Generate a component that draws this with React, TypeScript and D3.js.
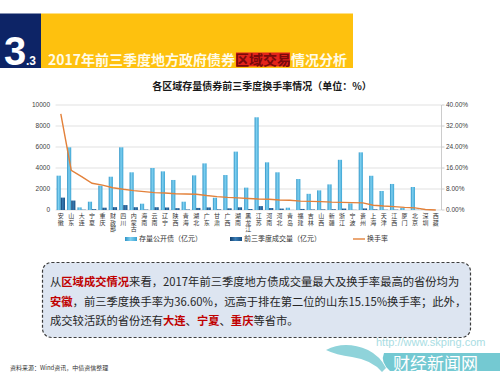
import React from "react";
import * as d3 from "d3";

const categories = ["安徽", "山东", "大连", "宁夏", "重庆", "财政部", "四川", "内蒙古", "海南", "云南", "辽宁", "陕西", "青海", "湖北", "广东", "甘肃", "广西", "湖南", "黑龙江", "江苏", "河南", "河北", "青岛", "福建", "吉林", "山西", "新疆", "浙江", "宁波", "贵州", "上海", "天津", "江西", "厦门", "北京", "深圳", "西藏"];

// 存量公开债（亿元）
const stockValues = [3270, 5970, 250, 790, 2320, 3170, 5970, 3590, 600, 4000, 3680, 2860, 790, 3300, 4440, 1170, 3330, 5560, 2130, 8830, 4540, 3590, 220, 2950, 1540, 1870, 2440, 4780, 630, 5490, 3260, 1810, 2480, 220, 2190, 30, 0];
// 前三季度成交量（亿元）
const volumeValues = [1180, 900, 32, 80, 220, 270, 470, 265, 42, 264, 240, 177, 48, 198, 244, 60, 160, 256, 94, 371, 186, 136, 8, 100, 51, 60, 73, 138, 18, 148, 62, 27, 35, 2, 18, 0, 0];
// 换手率（%）
const rateValues = [36.6, 15.15, 12.7, 10.2, 9.5, 8.5, 7.9, 7.4, 7.0, 6.6, 6.5, 6.2, 6.1, 6.0, 5.5, 5.1, 4.8, 4.6, 4.4, 4.2, 4.1, 3.8, 3.7, 3.4, 3.3, 3.2, 3.0, 2.9, 2.8, 2.7, 1.8, 1.5, 1.3, 1.0, 0.8, 0.2, 0];

const leftTicks = [0, 2000, 4000, 6000, 8000, 10000];
const rightTicks = [0, 8, 16, 24, 32, 40];

const seriesNames = ["存量公开债（亿元）", "前三季度成交量（亿元）", "换手率"];

const cjk = "'Noto Sans CJK SC', 'Noto Sans', sans-serif";
const latin = "'Liberation Sans', Arial, sans-serif";

const W = 500;
const H = 375;
const plot = { left: 55.6, right: 441, top: 105, bottom: 210 };

export default function App() {
  const x = d3
    .scaleBand<string>()
    .domain(categories)
    .range([plot.left, plot.right])
    .paddingInner(0.2)
    .paddingOuter(0.1);
  const sub = d3.scaleBand<string>().domain(["stock", "volume"]).range([0, x.bandwidth()]);
  const yL = d3.scaleLinear().domain([0, 10000]).range([plot.bottom, plot.top]);
  const yR = d3.scaleLinear().domain([0, 40]).range([plot.bottom, plot.top]);
  const cx = (c: string) => (x(c) as number) + x.bandwidth() / 2;

  const line = d3
    .line<number>()
    .x((_, i) => cx(categories[i]))
    .y((d) => yR(d));

  return (
    <svg
      width={W}
      height={H}
      style={{ position: "absolute", left: 0, top: 0, background: "#fff" }}
    >
      <defs>
        <linearGradient id="lightBar" x1="0" x2="1" y1="0" y2="0">
          <stop offset="0" stopColor="#2f93c6" />
          <stop offset="0.45" stopColor="#7fd0f0" />
          <stop offset="1" stopColor="#3aa3d3" />
        </linearGradient>
        <linearGradient id="darkBar" x1="0" x2="1" y1="0" y2="0">
          <stop offset="0" stopColor="#123f6e" />
          <stop offset="0.45" stopColor="#3a7db5" />
          <stop offset="1" stopColor="#174c80" />
        </linearGradient>
      </defs>

      {/* header */}
      <rect x={0} y={13.5} width={41} height={54.5} fill="#0d2466" />
      <rect x={41} y={13.5} width={312} height={54.5} fill="#fec10e" />
      <text x={4} y={65} fill="#fff" fontFamily={latin} fontWeight="bold" fontSize={40}>3</text>
      <text x={26} y={65} fill="#fff" fontFamily={latin} fontWeight="bold" fontSize={12}>.3</text>
      <rect x={236} y={52.5} width={54} height={14} fill="#e3231b" />
      <text x={48} y={65} fontFamily={cjk} fontWeight="bold" fontSize={14} fill="#fffbe8">
        2017年前三季度地方政府债券
        <tspan fill="#7a0a0a">区域交易</tspan>
        情况分析
      </text>

      {/* chart title */}
      <text x={262} y={89.5} textAnchor="middle" fontFamily={cjk} fontWeight="bold" fontSize={10} fill="#1a1a1a">
        各区域存量债券前三季度换手率情况（单位：%）
      </text>

      {/* gridlines */}
      {leftTicks.map((t) => (
        <line key={t} x1={plot.left} x2={plot.right} y1={yL(t)} y2={yL(t)} stroke="#d9d9d9" strokeWidth={0.8} />
      ))}

      {/* left axis labels */}
      {leftTicks.map((t) => (
        <text key={t} x={50} y={yL(t)} dy="0.35em" textAnchor="end" fontFamily={latin} fontSize={6.5} fill="#404040">
          {t}
        </text>
      ))}

      {/* right axis */}
      <line x1={plot.right + 0.5} x2={plot.right + 0.5} y1={plot.top} y2={plot.bottom} stroke="#bfbfbf" strokeWidth={0.8} />
      {rightTicks.map((t) => (
        <g key={t}>
          <line x1={plot.right + 0.5} x2={plot.right + 3.5} y1={yR(t)} y2={yR(t)} stroke="#bfbfbf" strokeWidth={0.8} />
          <text x={446} y={yR(t)} dy="0.35em" fontFamily={latin} fontSize={6.5} fill="#404040">
            {t.toFixed(2)}%
          </text>
        </g>
      ))}

      {/* bars */}
      {categories.map((c, i) => (
        <g key={c} transform={`translate(${x(c)},0)`}>
          <rect
            x={sub("stock")}
            y={yL(stockValues[i])}
            width={sub.bandwidth()}
            height={plot.bottom - yL(stockValues[i])}
            fill="url(#lightBar)"
          />
          <rect
            x={sub("volume")}
            y={yL(volumeValues[i])}
            width={sub.bandwidth()}
            height={plot.bottom - yL(volumeValues[i])}
            fill="url(#darkBar)"
          />
        </g>
      ))}

      {/* rate line */}
      <path d={line(rateValues) as string} fill="none" stroke="#e3813a" strokeWidth={1.4} />

      {/* x labels, written vertically */}
      {categories.map((c) => (
        <text
          key={c}
          x={cx(c)}
          y={213}
          style={{ writingMode: "vertical-rl" }}
          fontFamily={cjk}
          fontSize={6}
          letterSpacing={0.5}
          fill="#333"
        >
          {c}
        </text>
      ))}

      {/* legend */}
      <rect x={125} y={237} width={12} height={4} fill="url(#lightBar)" />
      <text x={139} y={239} dy="0.35em" fontFamily={cjk} fontSize={7} fill="#333">{seriesNames[0]}</text>
      <rect x={230} y={237} width={12} height={4} fill="url(#darkBar)" />
      <text x={244} y={239} dy="0.35em" fontFamily={cjk} fontSize={7} fill="#333">{seriesNames[1]}</text>
      <line x1={353} x2={365} y1={239} y2={239} stroke="#e3813a" strokeWidth={1.4} />
      <text x={367} y={239} dy="0.35em" fontFamily={cjk} fontSize={7} fill="#333">{seriesNames[2]}</text>

      {/* commentary box */}
      <rect x={42.5} y={262.5} width={428} height={75} rx={9} fill="#dde5f1" stroke="#3c3c3c" strokeWidth={1.2} strokeDasharray="3 2" />
      <g fontFamily={cjk} fontSize={11.3} fill="#262626">
        <text x={50} y={286}>
          从<tspan fill="#c00000" fontWeight="bold">区域成交情况</tspan>来看，2017年前三季度地方债成交量最大及换手率最高的省份均为
        </text>
        <text x={50} y={305.5}>
          <tspan fill="#c00000" fontWeight="bold">安徽</tspan>，前三季度换手率为36.60%，远高于排在第二位的山东15.15%换手率；此外，
        </text>
        <text x={50} y={325}>
          成交较活跃的省份还有<tspan fill="#c00000" fontWeight="bold">大连</tspan>、<tspan fill="#c00000" fontWeight="bold">宁夏</tspan>、<tspan fill="#c00000" fontWeight="bold">重庆</tspan>等省市。
        </text>
      </g>

      {/* source */}
      <text x={10} y={370} fontFamily={cjk} fontSize={6} fill="#333">资料来源：Wind资讯，中债资信整理</text>

      {/* watermark */}
      <path d="M326,350 Q345,340 368,350 Q380,356 386,368 L382,372 Q372,360 352,357 Q336,355 326,350 Z" fill="#8fd3da" />
      <path d="M384,353 L500,353 L500,371 L390,371 Q380,362 384,353 Z" fill="#74c9d2" />
      <text x={376} y={345.5} fontFamily={latin} fontSize={11} fill="#a9dde3">http://www.skping.com</text>
      <text x={393} y={369.5} fontFamily={cjk} fontSize={17} fill="#ffffff">财经新闻网</text>
    </svg>
  );
}
